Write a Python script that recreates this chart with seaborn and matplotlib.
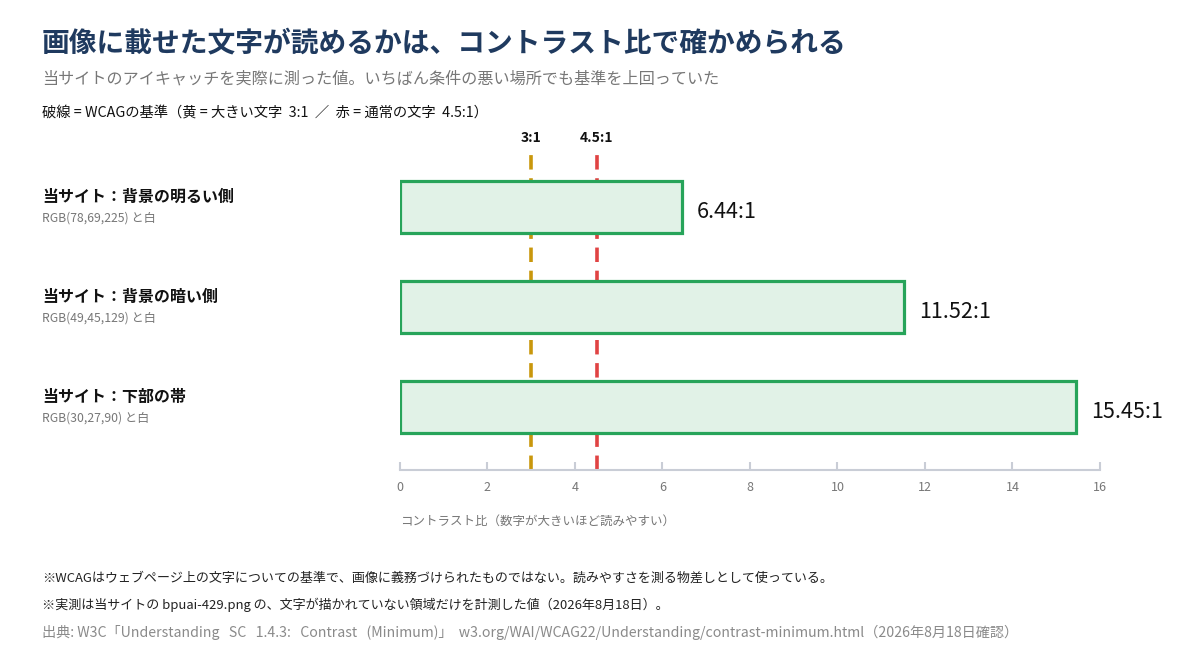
import matplotlib
matplotlib.use("Agg")
import matplotlib.pyplot as plt
import matplotlib.transforms as mtransforms
import pandas as pd
import seaborn as sns

# データ
labels = ["当サイト：背景の明るい側", "当サイト：背景の暗い側", "当サイト：下部の帯"]
sub_labels = ["RGB(78,69,225) と白", "RGB(49,45,129) と白", "RGB(30,27,90) と白"]
ratios = [6.44, 11.52, 15.45]
thresholds = [3.0, 4.5]
threshold_labels = ["3:1", "4.5:1"]
threshold_colors = ["#c9970c", "#e04343"]
xticks = [0, 2, 4, 6, 8, 10, 12, 14, 16]

df = pd.DataFrame({"label": labels, "ratio": ratios})

sns.set_theme(style="white")
plt.rcParams["font.family"] = ["Noto Sans CJK JP", "DejaVu Sans"]

fig = plt.figure(figsize=(12, 6.6), dpi=100)
ax = fig.add_axes([0.3333, 0.2879, 0.5833, 0.4894])

sns.barplot(data=df, x="ratio", y="label", orient="h", width=0.52,
            color="#e1f2e7", edgecolor="#27a45a", linewidth=2.3,
            saturation=1, ax=ax, zorder=3)

for t, c in zip(thresholds, threshold_colors):
    ax.axvline(t, ymin=0.0, ymax=1.0, color=c, lw=2.6,
               linestyle=(0, (4, 2.4)), zorder=1)

ax.set_xlim(0, 16)
ax.set_ylim(2.63, -0.6)
ax.set_xticks(xticks)
ax.set_xticklabels([str(v) for v in xticks], color="#777777", fontsize=9)
ax.set_yticks([])
ax.set_ylabel("")
ax.set_xlabel("")
for s in ["top", "right", "left"]:
    ax.spines[s].set_visible(False)
ax.spines["bottom"].set_color("#c9cdd6")
ax.spines["bottom"].set_linewidth(1.5)
ax.tick_params(axis="x", direction="in", length=6, width=1.5,
               color="#c9cdd6", pad=8, bottom=True)

# 値ラベル
for i, v in enumerate(ratios):
    ax.text(v + 0.35, i + 0.05, f"{v:.2f}:1", va="center", ha="left",
            fontsize=15.5, color="#111111", zorder=4)

# 基準線ラベル
trans = mtransforms.blended_transform_factory(ax.transData, ax.transAxes)
for t, lab in zip(thresholds, threshold_labels):
    ax.text(t, 1.005, lab, transform=trans, ha="center", va="bottom",
            fontsize=10, fontweight="bold", color="#111111")

# カテゴリラベル
for i, (lab, sub) in enumerate(zip(labels, sub_labels)):
    ytop = 1 - (207 + 100 * i) / 660
    fig.text(0.035, ytop + 0.015, lab, fontsize=11.5, fontweight="bold",
             color="#111111", va="center", ha="left")
    fig.text(0.035, ytop - 0.0165, sub, fontsize=8.8, color="#777777",
             va="center", ha="left")

fig.text(400 / 1200, 1 - 521 / 660, "コントラスト比（数字が大きいほど読みやすい）",
         fontsize=9, color="#777777", va="center", ha="left")

# タイトル
fig.text(0.035, 1 - 44 / 660, "画像に載せた文字が読めるかは、コントラスト比で確かめられる",
         fontsize=20, fontweight="bold", color="#1f3a5f", va="center", ha="left")
fig.text(0.035, 1 - 79 / 660, "当サイトのアイキャッチを実際に測った値。いちばん条件の悪い場所でも基準を上回っていた",
         fontsize=11.6, color="#777777", va="center", ha="left")
fig.text(0.035, 1 - 114 / 660, "破線 = WCAGの基準（黄 = 大きい文字  3:1  ／  赤 = 通常の文字  4.5:1）",
         fontsize=10.3, color="#111111", va="center", ha="left")

# 注記
fig.text(0.035, 1 - 578 / 660, "※WCAGはウェブページ上の文字についての基準で、画像に義務づけられたものではない。読みやすさを測る物差しとして使っている。",
         fontsize=9.4, color="#222222", va="center", ha="left")
fig.text(0.035, 1 - 605 / 660, "※実測は当サイトの bpuai-429.png の、文字が描かれていない領域だけを計測した値（2026年8月18日）。",
         fontsize=9.4, color="#222222", va="center", ha="left")
fig.text(0.035, 1 - 632 / 660, "出典: W3C「Understanding   SC   1.4.3:   Contrast   (Minimum)」  w3.org/WAI/WCAG22/Understanding/contrast-minimum.html（2026年8月18日確認）",
         fontsize=10.2, color="#8a8a8a", va="center", ha="left")

fig.savefig("out.png", dpi=100, facecolor="white")
